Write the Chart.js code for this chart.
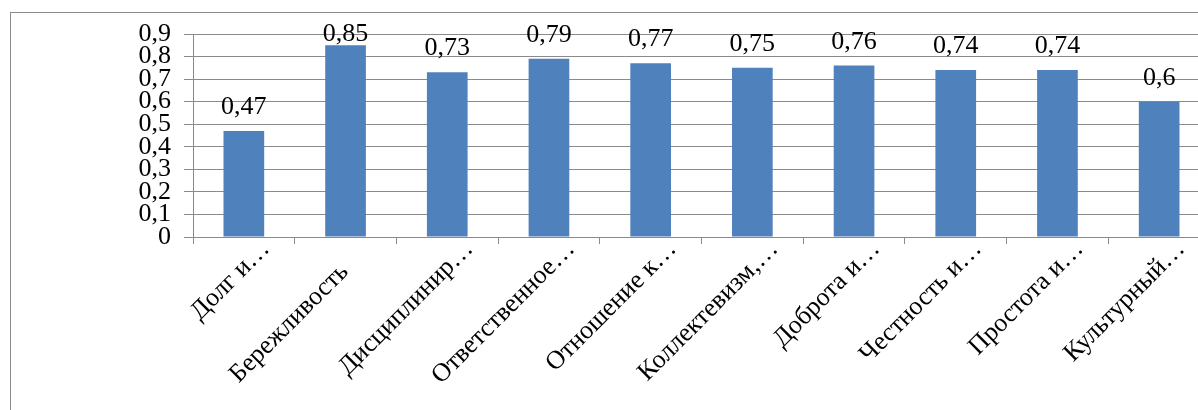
<!DOCTYPE html>
<html>
<head>
<meta charset="utf-8">
<script src="https://cdn.jsdelivr.net/npm/chart.js@4"></script>
<style>
  html, body { margin: 0; padding: 0; background: #fff; overflow: hidden; width: 1198px; height: 410px; }
  #frame { position: absolute; left: 10px; top: 12px; width: 1400px; height: 600px; border: 1px solid #8a8a8a; }
  #wrap { position: absolute; left: 0; top: 0; width: 1240px; height: 420px; }
</style>
</head>
<body>
<div id="frame"></div>
<div id="wrap"><canvas id="c" width="1240" height="420"></canvas></div>
<script>
const categories = ["Долг и…", "Бережливость", "Дисциплинир…", "Ответственное…", "Отношение к…", "Коллектевизм,…", "Доброта и…", "Честность и…", "Простота и…", "Культурный…"];
const values = [0.47, 0.85, 0.73, 0.79, 0.77, 0.75, 0.76, 0.74, 0.74, 0.6];
const yMin = 0, yMax = 0.9, yStep = 0.1;

const FONT = "'Liberation Serif', 'Times New Roman', serif";
const fmt = v => String(Math.round(v * 100) / 100).replace('.', ',');

const labelPlugin = {
  id: 'valueLabels',
  afterDatasetsDraw(chart) {
    const ctx = chart.ctx;
    const meta = chart.getDatasetMeta(0);
    ctx.save();
    ctx.font = "26px " + FONT;
    ctx.fillStyle = '#000';
    ctx.textAlign = 'center';
    ctx.textBaseline = 'alphabetic';
    meta.data.forEach((el, i) => {
      let y = el.y - 17;
      if (y < 41) y = 41;
      ctx.fillText(fmt(values[i]), el.x, y);
    });
    ctx.restore();
  }
};

new Chart(document.getElementById('c'), {
  type: 'bar',
  data: {
    labels: categories,
    datasets: [{
      data: values,
      backgroundColor: '#4f81bd',
      borderWidth: 0,
      barPercentage: 0.4,
      categoryPercentage: 1
    }]
  },
  options: {
    responsive: false,
    animation: false,
    devicePixelRatio: 1,
    layout: { padding: { top: 34, right: 30, left: 0, bottom: 0 } },
    plugins: { legend: { display: false }, tooltip: { enabled: false } },
    scales: {
      x: {
        grid: { display: true, drawOnChartArea: false, drawTicks: true, tickLength: 7, color: '#8a8a8a', offset: true },
        border: { display: true, color: '#8a8a8a', width: 1 },
        ticks: {
          autoSkip: false, minRotation: 45, maxRotation: 45,
          color: '#000', font: { family: FONT, size: 26 },
          padding: -10, labelOffset: 22,
          callback: (v, i) => {
            const t = categories[i];
            return t.endsWith('…') ? t : t + '\u2002\u2002 ';
          }
        },
        afterFit: s => { s.height = 420 - 237; }
      },
      y: {
        min: yMin, max: yMax,
        grid: { color: '#8a8a8a', lineWidth: 1, tickLength: 9 },
        border: { display: true, color: '#8a8a8a', width: 1 },
        ticks: {
          autoSkip: false,
          stepSize: yStep, color: '#000', font: { family: FONT, size: 26, lineHeight: 1 },
          padding: 13,
          callback: v => fmt(v)
        },
        afterFit: s => { s.width = 193; }
      }
    }
  },
  plugins: [labelPlugin]
});
</script>
</body>
</html>
